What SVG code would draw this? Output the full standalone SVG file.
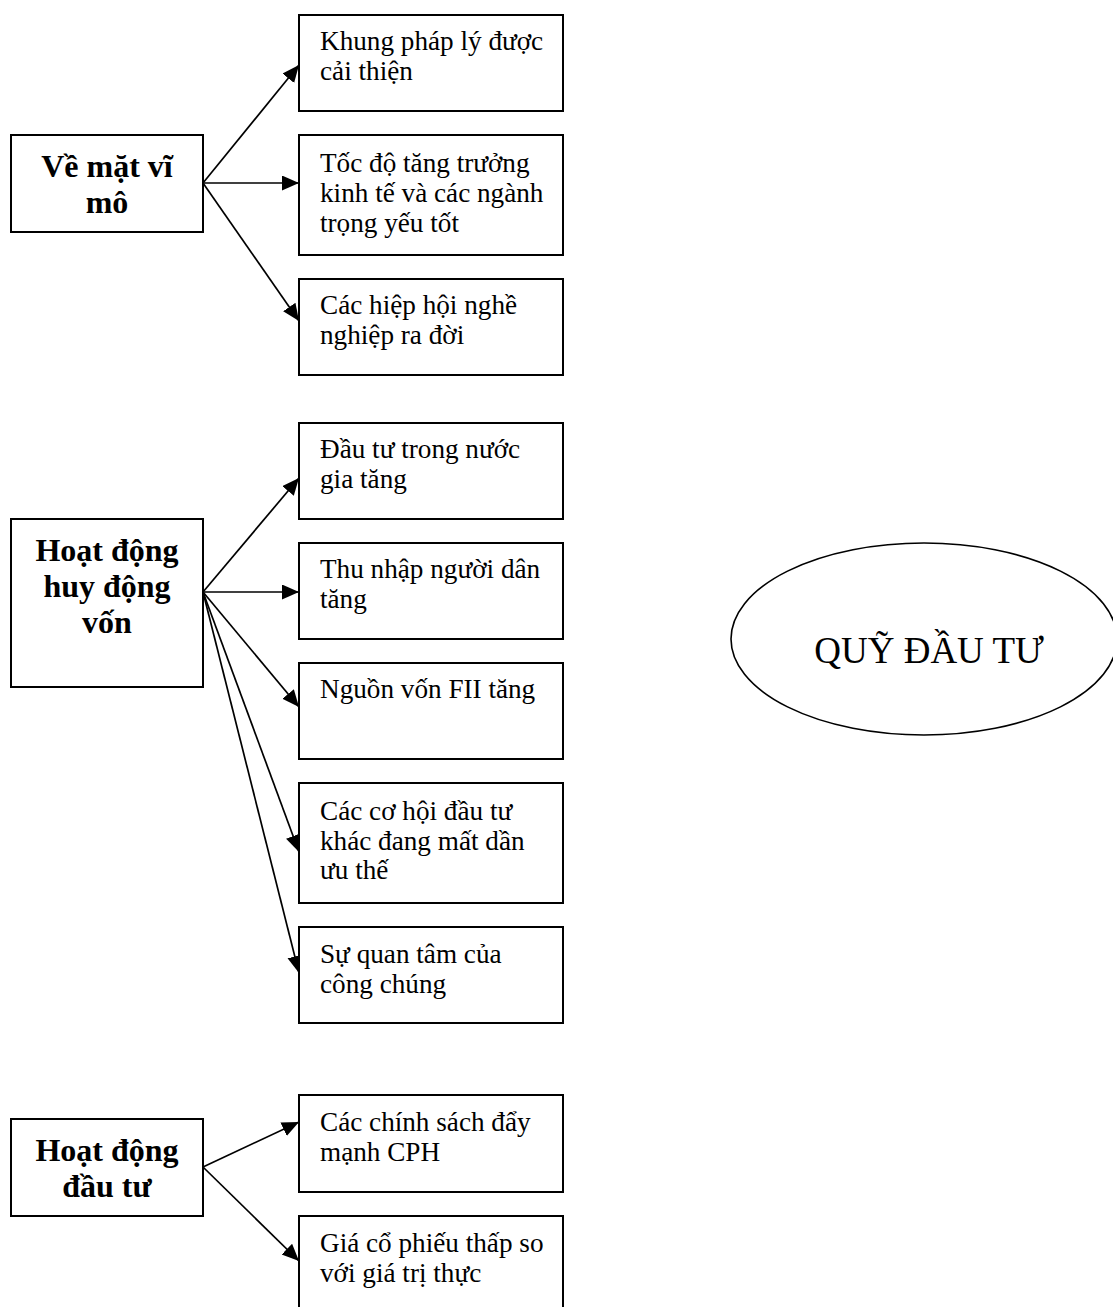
<svg xmlns="http://www.w3.org/2000/svg" width="1113" height="1307" viewBox="0 0 1113 1307">
<style>
.box{fill:#fff;stroke:#000;stroke-width:2}
.t{font-family:"Liberation Serif","Times New Roman",serif;font-size:27.2px;fill:#000}
.h{font-family:"Liberation Serif","Times New Roman",serif;font-size:32px;font-weight:bold;fill:#000;text-anchor:middle}
.c{stroke:#000;stroke-width:1.7;fill:none;marker-end:url(#ah)}
</style>
<defs>
<marker id="ah" markerUnits="userSpaceOnUse" markerWidth="19" markerHeight="16" refX="17" refY="7.5" orient="auto">
<path d="M0,0 L17,7.5 L0,15 z" fill="#000"/>
</marker>
</defs>
<rect width="1113" height="1307" fill="#fff"/>
<g id="connectors">
<line class="c" x1="203" y1="183" x2="299" y2="65"/>
<line class="c" x1="203" y1="183" x2="299" y2="183"/>
<line class="c" x1="203" y1="183" x2="299" y2="321"/>
<line class="c" x1="203" y1="592" x2="299" y2="478"/>
<line class="c" x1="203" y1="592" x2="299" y2="592"/>
<line class="c" x1="203" y1="592" x2="299" y2="707"/>
<line class="c" x1="203" y1="592" x2="299" y2="852"/>
<line class="c" x1="203" y1="592" x2="299" y2="973"/>
<line class="c" x1="203" y1="1167" x2="299" y2="1122"/>
<line class="c" x1="203" y1="1167" x2="299" y2="1261"/>
</g>
<g id="n-vimo"><rect class="box" x="11" y="135" width="192" height="97"/>
<text class="h" x="107" y="177">Về mặt vĩ</text><text class="h" x="107" y="213">mô</text></g>
<g id="n-khung"><rect class="box" x="299" y="15" width="264" height="96"/>
<text class="t" x="320" y="50">Khung pháp lý được</text><text class="t" x="320" y="80">cải thiện</text></g>
<g id="n-tocdo"><rect class="box" x="299" y="135" width="264" height="120"/>
<text class="t" x="320" y="172">Tốc độ tăng trưởng</text><text class="t" x="320" y="202">kinh tế và các ngành</text><text class="t" x="320" y="232">trọng yếu tốt</text></g>
<g id="n-hiephoi"><rect class="box" x="299" y="279" width="264" height="96"/>
<text class="t" x="320" y="314">Các hiệp hội nghề</text><text class="t" x="320" y="344">nghiệp ra đời</text></g>
<g id="n-huydong"><rect class="box" x="11" y="519" width="192" height="168"/>
<text class="h" x="107" y="561">Hoạt động</text><text class="h" x="107" y="597">huy động</text><text class="h" x="107" y="633">vốn</text></g>
<g id="n-dautu-tn"><rect class="box" x="299" y="423" width="264" height="96"/>
<text class="t" x="320" y="458">Đầu tư trong nước</text><text class="t" x="320" y="488">gia tăng</text></g>
<g id="n-thunhap"><rect class="box" x="299" y="543" width="264" height="96"/>
<text class="t" x="320" y="578">Thu nhập người dân</text><text class="t" x="320" y="608">tăng</text></g>
<g id="n-fii"><rect class="box" x="299" y="663" width="264" height="96"/>
<text class="t" x="320" y="698">Nguồn vốn FII tăng</text></g>
<g id="n-cohoi"><rect class="box" x="299" y="783" width="264" height="120"/>
<text class="t" x="320" y="820">Các cơ hội đầu tư</text><text class="t" x="320" y="850">khác đang mất dần</text><text class="t" x="320" y="879">ưu thế</text></g>
<g id="n-quantam"><rect class="box" x="299" y="927" width="264" height="96"/>
<text class="t" x="320" y="963">Sự quan tâm của</text><text class="t" x="320" y="993">công chúng</text></g>
<g id="n-dautu"><rect class="box" x="11" y="1119" width="192" height="97"/>
<text class="h" x="107" y="1161">Hoạt động</text><text class="h" x="107" y="1197">đầu tư</text></g>
<g id="n-cph"><rect class="box" x="299" y="1095" width="264" height="97"/>
<text class="t" x="320" y="1131">Các chính sách đẩy</text><text class="t" x="320" y="1161">mạnh CPH</text></g>
<g id="n-gia"><rect class="box" x="299" y="1216" width="264" height="97"/>
<text class="t" x="320" y="1252">Giá cổ phiếu thấp so</text><text class="t" x="320" y="1282">với giá trị thực</text></g>
<g id="n-quy"><ellipse cx="924" cy="639" rx="193" ry="96" fill="#fff" stroke="#000" stroke-width="1.6"/>
<text x="929" y="663" font-family="Liberation Serif, Times New Roman, serif" font-size="37" text-anchor="middle">QUỸ ĐẦU TƯ</text></g>
</svg>
